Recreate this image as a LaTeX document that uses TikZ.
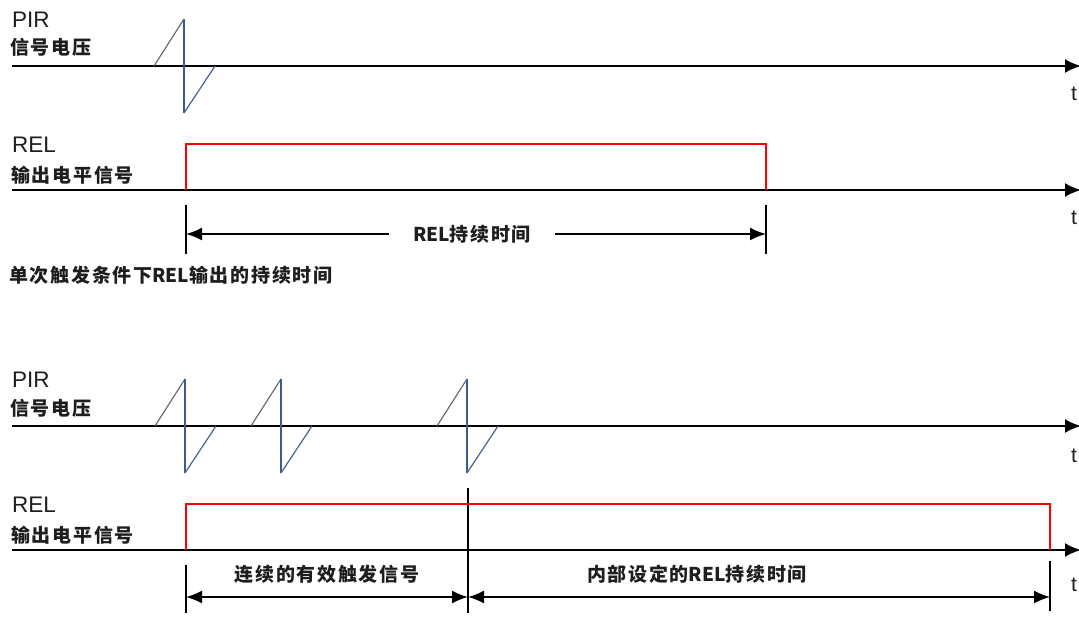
\documentclass[tikz,border=0pt]{standalone}
\usepackage{fontspec}
\setmainfont{Liberation Sans}
\newfontfamily\cjk{Noto Sans CJK SC}
\usetikzlibrary{arrows.meta}
\definecolor{pblue}{RGB}{58,92,150}
\definecolor{pgray}{RGB}{90,100,115}
\definecolor{txt}{RGB}{30,30,30}
\newcommand\lrel{{\addfontfeature{LetterSpace=0}REL}}
\newcommand\pirpulse[3]{%
  \coordinate (#1s) at (#2-30,#3);
  \coordinate (#1t) at (#2,#3-47);
  \coordinate (#1b) at (#2,#3+47);
  \coordinate (#1e) at (#2+31,#3);
  \draw[pdiag] (#1s) -- (#1t);
  \draw[pvert] (#1t) -- (#1b);
  \draw[pdiag2] (#1b) -- (#1e);}
\begin{document}
\begin{tikzpicture}[x=1pt,y=-1pt,
  axis/.style={line width=2.2pt,draw=black,-{Latex[length=16pt,width=14pt]}},
  lat/.style={font=\fontsize{22.5}{22.5}\selectfont,text=txt,inner sep=0pt,anchor=base west},
  zh/.style={font=\cjk\bfseries\addfontfeature{LetterSpace=9}\fontsize{19}{19}\selectfont,text=txt,inner sep=0pt,anchor=west},
  zhc/.style={zh,anchor=center},
  tl/.style={font=\fontsize{21}{21}\selectfont,text=txt,inner sep=0pt,anchor=west},
  pdiag/.style={line width=1.1pt,draw=pgray},
  pdiag2/.style={line width=1.2pt,draw=pblue!80!gray},
  pvert/.style={line width=1.5pt,draw=pblue},
  relsig/.style={line width=1.8pt,draw=red},
  tickln/.style={line width=1.8pt,draw=black},
  sepln/.style={line width=1.2pt,draw=black},
  dim/.style={line width=1.7pt,draw=black,{Latex[length=16pt,width=13pt]}-{Latex[length=16pt,width=13pt]}}
]
\useasboundingbox (0,0) rectangle (1079,616);
\fill[white] (0,0) rectangle (1079,616);

% ---------- top diagram ----------
\node[lat] (pir1) at (12,27) {PIR};
\node[zh] (pirv1) at (10,47) {信号电压};
\coordinate (ax1s) at (12,66); \coordinate (ax1e) at (1081,66);
\draw[axis] (ax1s) -- (ax1e);
\node[tl] (t1) at (1071,94) {t};
\pirpulse{p1}{184}{66}

\node[lat] (rel1) at (12,152) {REL};
\node[zh] (relv1) at (11,175) {输出电平信号};
\coordinate (ax2s) at (12,190); \coordinate (ax2e) at (1081,190);
\draw[axis] (ax2s) -- (ax2e);
\node[tl] (t2) at (1071,218) {t};
\coordinate (r1a) at (186,190); \coordinate (r1b) at (186,144);
\coordinate (r1c) at (766,144); \coordinate (r1d) at (766,190);
\draw[relsig] (r1a) -- (r1b) -- (r1c) -- (r1d);

\coordinate (k1t) at (186,205); \coordinate (k1b) at (186,254);
\coordinate (k2t) at (766,205); \coordinate (k2b) at (766,254);
\draw[tickln] (k1t) -- (k1b);
\draw[tickln] (k2t) -- (k2b);
\coordinate (d1l) at (186,234); \coordinate (d1r) at (766,234);
\draw[dim] (d1l) -- (d1r) node[zhc,midway,xshift=-4pt,fill=white,inner xsep=24pt,inner ysep=4pt] (dl1) {\lrel 持续时间};

\node[zh] (cap1) at (9,275) {单次触发条件下\lrel 输出的持续时间};

% ---------- bottom diagram ----------
\node[lat] (pir2) at (12,387) {PIR};
\node[zh] (pirv2) at (10,408) {信号电压};
\coordinate (ax3s) at (12,426); \coordinate (ax3e) at (1081,426);
\draw[axis] (ax3s) -- (ax3e);
\node[tl] (t3) at (1071,456) {t};
\pirpulse{q1}{185}{426}
\pirpulse{q2}{281}{426}
\pirpulse{q3}{467}{426}

\node[lat] (rel2) at (12,512) {REL};
\node[zh] (relv2) at (11,535) {输出电平信号};
\coordinate (ax4s) at (12,550); \coordinate (ax4e) at (1081,550);
\draw[axis] (ax4s) -- (ax4e);
\node[tl] (t4) at (1071,585) {t};

\coordinate (s1t) at (468,488); \coordinate (s1b) at (468,613);
\draw[sepln] (s1t) -- (s1b);

\coordinate (r2a) at (186,550); \coordinate (r2b) at (186,504);
\coordinate (r2c) at (1050,504); \coordinate (r2d) at (1050,550);
\draw[relsig] (r2a) -- (r2b) -- (r2c) -- (r2d);

\coordinate (k3t) at (186,565); \coordinate (k3b) at (186,613);
\coordinate (k4t) at (1050,561); \coordinate (k4b) at (1050,611);
\draw[tickln] (k3t) -- (k3b);
\draw[tickln] (k4t) -- (k4b);
\coordinate (d2l) at (186,597); \coordinate (d2m) at (468,597); \coordinate (d2r) at (1050,597);
\draw[dim] (d2l) -- (d2m);
\draw[dim] (d2m) -- (d2r);
\node[zhc] (dl2) at (327,574) {连续的有效触发信号};
\node[zhc] (dl3) at (697,574) {内部设定的\lrel 持续时间};
\end{tikzpicture}
\end{document}
